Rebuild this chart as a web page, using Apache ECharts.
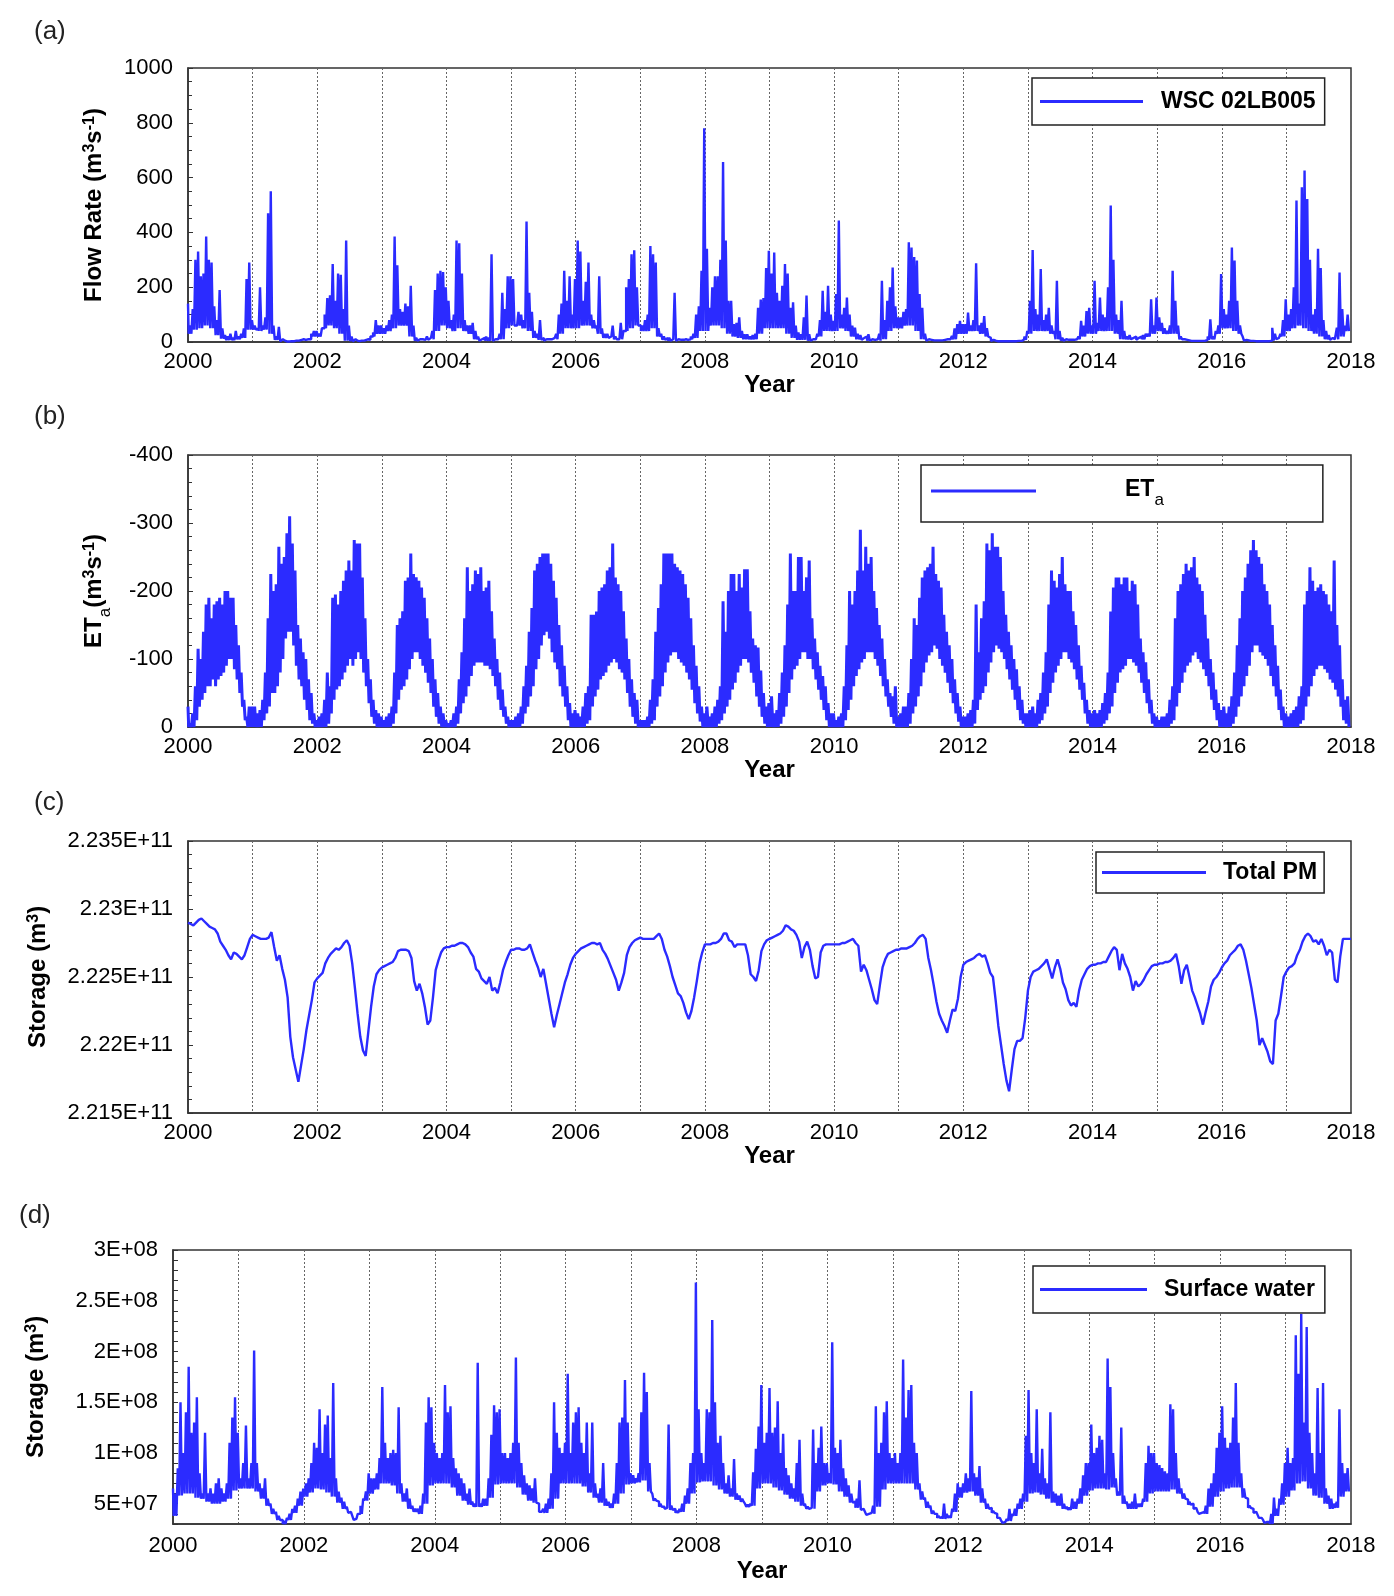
<!DOCTYPE html>
<html>
<head>
<meta charset="utf-8">
<script src="https://cdn.jsdelivr.net/npm/echarts@6/dist/echarts.min.js"></script>
<style>html,body{margin:0;padding:0;background:#fff}#c{width:1394px;height:1596px}</style>
</head>
<body>
<div id="c"></div>
<script>
// ---- time base: half-month samples from 2000 to 2018 ----
const startYear = 2000;
const endYear = 2018;
const perYear = 24;

// (a) Flow rate WSC 02LB005 (m3/s): half-month peaks (24/yr) and monthly base flow (12/yr)
const flowPeak = [
140,60,120,300,330,240,250,385,300,290,130,80,190,50,25,20,30,15,40,20,30,50,230,290,
80,60,50,200,60,90,470,550,60,20,55,10,5,3,3,3,5,5,8,10,15,15,30,40,
40,30,50,100,160,170,285,150,250,245,120,370,60,20,10,5,5,5,8,10,20,35,80,60,
60,50,60,80,100,385,280,120,110,140,130,205,60,15,10,10,8,20,15,40,190,250,260,255,
200,150,80,100,370,360,250,80,60,60,70,40,20,10,15,20,15,320,10,10,30,180,120,240,
240,230,60,110,100,80,440,180,110,40,30,80,15,10,10,10,15,30,100,140,260,150,240,100,
230,370,330,150,220,290,100,80,60,240,50,30,30,20,60,20,10,70,40,200,230,320,335,200,
60,60,80,100,350,320,290,50,30,20,15,15,10,180,10,8,8,10,15,20,30,100,130,260,
780,340,125,200,240,240,300,657,370,150,150,65,70,90,40,28,28,20,25,30,125,155,160,270,
333,250,327,180,150,205,285,250,125,145,60,35,28,90,170,28,10,10,30,80,187,110,205,100,
77,175,443,100,125,162,100,60,52,30,25,15,20,28,10,8,10,30,223,80,150,200,272,130,
90,90,110,120,364,345,310,297,175,125,30,10,8,6,6,6,6,8,10,10,22,50,65,77,
65,65,107,60,80,287,60,70,95,50,15,8,5,5,4,4,4,4,4,4,5,6,10,20,
40,150,336,120,100,266,80,100,125,60,40,223,40,15,10,8,8,8,10,20,77,60,113,125,
60,223,70,162,100,90,200,498,300,100,80,150,40,20,25,15,20,15,20,25,30,30,156,60,
162,90,70,50,40,60,260,150,60,20,10,8,6,6,5,5,5,6,8,20,83,20,40,60,
248,120,100,150,345,297,150,60,20,8,6,5,5,5,5,5,6,8,10,52,30,15,30,80,
156,100,120,200,516,140,565,626,522,300,100,120,340,270,80,40,25,15,10,52,254,120,60,100
];
const flowBase = [
30,45,50,60,50,25,12,7,7,10,15,45,
45,40,45,30,8,3,2,3,5,8,10,20,
20,50,60,50,30,5,3,3,5,8,20,30,
30,40,50,60,60,20,5,5,8,10,40,60,
50,40,50,40,30,10,5,5,5,5,10,50,
60,60,50,40,15,8,5,5,10,30,50,50,
50,60,60,50,30,15,15,10,10,40,50,60,
40,40,50,20,8,5,5,5,8,10,15,40,
40,60,60,50,30,20,15,10,10,10,30,50,
50,50,50,30,15,8,8,5,10,20,40,40,
40,50,40,20,10,8,5,5,5,10,40,50,
50,60,60,40,10,5,3,3,3,5,10,30,
30,40,40,30,20,4,3,3,3,3,4,8,
30,40,40,40,30,10,5,5,6,10,20,30,
30,40,40,40,30,10,10,10,8,10,20,30,
40,30,30,30,10,5,4,4,4,8,10,30,
50,50,40,30,5,4,3,3,3,5,10,20,
40,50,60,50,40,30,20,10,8,10,20,40
];

// (b) ETa (m3/s, negative = loss): half-month upper and lower envelopes (24/yr each)
const etaPeak = [
-30,-5,-20,-60,-115,-100,-140,-180,-190,-160,-180,-185,-190,-180,-200,-200,-190,-190,-150,-120,-80,-40,-15,-30,
-30,-30,-20,-25,-40,-80,-160,-225,-200,-210,-265,-240,-250,-285,-310,-270,-230,-150,-130,-110,-100,-70,-50,-20,
-10,-15,-20,-40,-80,-60,-190,-195,-180,-200,-215,-230,-245,-230,-275,-270,-270,-220,-160,-100,-70,-40,-25,-20,
-15,-10,-15,-20,-30,-80,-150,-160,-170,-215,-220,-255,-225,-220,-215,-205,-190,-160,-130,-100,-70,-50,-30,-20,
-10,-5,-10,-20,-30,-70,-110,-160,-235,-200,-210,-230,-225,-235,-200,-205,-215,-170,-130,-100,-80,-55,-30,-15,
-10,-10,-15,-20,-30,-60,-90,-140,-175,-230,-240,-250,-255,-255,-255,-240,-215,-190,-150,-120,-90,-60,-35,-20,
-25,-20,-15,-30,-50,-60,-165,-165,-170,-200,-205,-210,-230,-235,-270,-220,-210,-200,-170,-130,-100,-70,-50,-40,
-10,-10,-10,-15,-40,-70,-140,-175,-210,-255,-255,-255,-255,-240,-235,-230,-225,-210,-190,-160,-120,-90,-60,-30,
-20,-30,-15,-20,-30,-40,-60,-185,-140,-200,-225,-225,-200,-225,-205,-232,-232,-170,-130,-120,-117,-83,-50,-30,
-35,-45,-20,-25,-50,-80,-120,-180,-255,-200,-200,-250,-250,-200,-220,-245,-160,-130,-110,-90,-75,-60,-35,-20,
-20,-10,-15,-20,-60,-120,-200,-180,-200,-230,-290,-230,-265,-240,-250,-200,-175,-150,-130,-100,-70,-50,-45,-60,
-15,-20,-30,-30,-50,-100,-160,-150,-190,-220,-230,-235,-240,-265,-225,-215,-205,-165,-140,-120,-100,-70,-50,-30,
-15,-15,-20,-25,-40,-180,-110,-160,-185,-270,-260,-285,-265,-265,-250,-200,-165,-140,-120,-100,-85,-60,-40,-20,
-20,-25,-30,-20,-40,-50,-80,-110,-180,-230,-215,-205,-225,-250,-210,-200,-200,-170,-150,-120,-90,-65,-40,-25,
-20,-25,-20,-25,-35,-50,-80,-170,-205,-220,-220,-210,-220,-220,-200,-215,-210,-180,-130,-110,-95,-70,-40,-20,
-15,-10,-15,-15,-20,-40,-60,-160,-200,-210,-225,-240,-230,-235,-250,-220,-210,-200,-165,-130,-100,-80,-55,-35,
-25,-30,-20,-30,-45,-80,-120,-160,-200,-220,-240,-260,-275,-260,-250,-240,-210,-200,-180,-150,-120,-90,-55,-30,
-20,-15,-20,-25,-30,-45,-60,-180,-200,-235,-215,-200,-205,-210,-200,-195,-180,-170,-245,-150,-120,-70,-40,-45
];
const etaBase = [
0,0,0,-10,-30,-40,-50,-60,-60,-70,-60,-70,-75,-80,-90,-100,-100,-85,-70,-50,-30,-10,0,0,
0,0,0,0,-10,-20,-30,-50,-50,-60,-80,-100,-130,-140,-140,-120,-90,-70,-60,-40,-25,-10,-5,0,
0,0,0,0,-5,-20,-40,-55,-60,-70,-80,-90,-100,-90,-100,-110,-100,-80,-60,-35,-15,-5,0,0,
0,0,0,0,-5,-20,-40,-55,-60,-70,-85,-100,-110,-110,-100,-90,-80,-65,-50,-30,-15,-5,0,0,
0,0,0,0,-5,-20,-35,-45,-60,-75,-90,-95,-95,-95,-90,-90,-85,-75,-60,-40,-25,-15,-5,0,
0,0,0,0,-5,-20,-30,-45,-60,-85,-100,-120,-135,-140,-130,-110,-95,-85,-60,-45,-30,-10,0,0,
0,0,0,0,-5,-10,-30,-45,-55,-70,-75,-80,-90,-95,-100,-95,-85,-80,-70,-50,-30,-15,-5,0,
0,0,0,0,-5,-10,-30,-45,-60,-80,-95,-105,-110,-110,-100,-95,-90,-80,-70,-55,-35,-20,-8,0,
0,0,0,0,0,-5,-10,-20,-30,-40,-55,-65,-80,-90,-100,-100,-95,-80,-65,-45,-30,-15,-5,0,
0,0,0,0,-5,-15,-30,-50,-70,-85,-90,-100,-110,-110,-100,-100,-85,-70,-55,-40,-25,-10,0,0,
0,0,0,0,-10,-25,-40,-60,-75,-85,-95,-100,-110,-110,-110,-100,-90,-75,-60,-45,-30,-15,-5,0,
0,0,0,0,-5,-20,-30,-45,-60,-80,-95,-105,-110,-120,-115,-100,-90,-80,-65,-50,-35,-20,-8,0,
0,0,0,0,-5,-25,-40,-50,-60,-80,-95,-110,-120,-115,-110,-100,-85,-70,-55,-40,-25,-10,-5,0,
0,0,0,0,-5,-10,-20,-30,-50,-65,-80,-90,-100,-110,-110,-100,-95,-85,-70,-55,-40,-20,-5,0,
0,0,0,0,-5,-10,-20,-30,-50,-65,-80,-85,-90,-100,-100,-95,-90,-80,-65,-50,-35,-20,-5,0,
0,0,0,0,0,-5,-10,-30,-50,-65,-80,-90,-95,-105,-110,-100,-95,-85,-75,-60,-40,-25,-10,0,
0,0,0,0,-5,-15,-30,-45,-60,-75,-90,-110,-120,-120,-110,-105,-100,-90,-75,-60,-45,-25,-10,0,
0,0,0,0,0,-5,-10,-30,-45,-60,-75,-85,-90,-90,-85,-80,-70,-65,-55,-45,-30,-10,-5,0
];

// (c) Total PM storage, in units of 1e9 m3 (24/yr) plus final value at 2018
const pmStorageE9 = [
222.90,222.89,222.88,222.90,222.92,222.93,222.91,222.89,222.87,222.86,222.85,222.82,222.76,222.73,222.70,222.66,222.63,222.68,222.67,222.65,222.63,222.66,222.72,222.78,
222.81,222.80,222.79,222.78,222.78,222.78,222.79,222.83,222.72,222.62,222.66,222.56,222.48,222.35,222.06,221.91,221.82,221.73,221.85,221.97,222.11,222.22,222.33,222.46,
222.49,222.51,222.53,222.60,222.64,222.67,222.69,222.71,222.70,222.72,222.75,222.77,222.73,222.60,222.42,222.23,222.06,221.96,221.92,222.10,222.28,222.43,222.52,222.55,
222.57,222.58,222.59,222.60,222.61,222.64,222.69,222.70,222.70,222.70,222.69,222.64,222.47,222.40,222.45,222.38,222.28,222.15,222.18,222.35,222.55,222.62,222.68,222.71,
222.72,222.72,222.73,222.73,222.74,222.75,222.75,222.74,222.72,222.68,222.65,222.56,222.54,222.49,222.47,222.45,222.50,222.40,222.42,222.38,222.46,222.55,222.61,222.66,
222.70,222.70,222.71,222.71,222.70,222.70,222.71,222.74,222.68,222.62,222.57,222.50,222.56,222.45,222.34,222.23,222.13,222.22,222.30,222.38,222.46,222.52,222.59,222.64,
222.67,222.69,222.71,222.72,222.73,222.74,222.75,222.75,222.74,222.75,222.70,222.67,222.63,222.58,222.53,222.48,222.40,222.46,222.53,222.66,222.72,222.75,222.77,222.78,
222.79,222.78,222.78,222.78,222.78,222.78,222.80,222.82,222.78,222.70,222.65,222.58,222.50,222.44,222.38,222.36,222.31,222.24,222.19,222.25,222.35,222.47,222.60,222.68,
222.74,222.74,222.74,222.75,222.75,222.76,222.78,222.82,222.82,222.77,222.76,222.72,222.74,222.74,222.74,222.74,222.66,222.52,222.50,222.47,222.55,222.69,222.74,222.77,
222.78,222.79,222.80,222.81,222.82,222.84,222.88,222.87,222.85,222.84,222.81,222.76,222.64,222.72,222.76,222.70,222.58,222.49,222.50,222.68,222.73,222.74,222.74,222.74,
222.74,222.74,222.74,222.75,222.75,222.76,222.77,222.78,222.75,222.73,222.54,222.59,222.55,222.48,222.41,222.33,222.30,222.44,222.57,222.63,222.67,222.68,222.69,222.70,
222.70,222.71,222.71,222.71,222.72,222.73,222.75,222.78,222.80,222.81,222.78,222.64,222.55,222.44,222.32,222.23,222.18,222.14,222.09,222.18,222.26,222.25,222.34,222.50,
222.59,222.61,222.62,222.63,222.64,222.66,222.67,222.65,222.66,222.60,222.53,222.50,222.33,222.14,222.00,221.86,221.74,221.66,221.82,221.97,222.03,222.03,222.05,222.20,
222.40,222.50,222.54,222.55,222.56,222.58,222.60,222.63,222.56,222.49,222.57,222.63,222.56,222.46,222.41,222.33,222.29,222.31,222.28,222.40,222.48,222.52,222.56,222.58,
222.59,222.59,222.60,222.60,222.61,222.61,222.65,222.69,222.72,222.70,222.55,222.67,222.60,222.56,222.50,222.40,222.47,222.43,222.45,222.48,222.52,222.55,222.58,222.59,
222.59,222.60,222.60,222.61,222.61,222.62,222.64,222.67,222.58,222.45,222.55,222.59,222.50,222.40,222.35,222.29,222.23,222.15,222.24,222.32,222.43,222.48,222.50,222.53,
222.57,222.60,222.62,222.66,222.68,222.70,222.73,222.74,222.70,222.62,222.52,222.42,222.30,222.18,222.00,222.05,222.00,221.95,221.88,221.86,222.18,222.23,222.36,222.50,
222.54,222.57,222.58,222.60,222.66,222.70,222.76,222.80,222.82,222.80,222.76,222.77,222.74,222.78,222.73,222.66,222.70,222.68,222.48,222.46,222.65,222.78,222.78,222.78,
222.78
];

// (d) Surface water storage, in units of 1e6 m3: half-month peaks (24/yr) and monthly base (12/yr)
const swPeakE6 = [
65,60,85,150,100,140,185,120,130,155,80,60,120,60,65,60,70,75,65,60,70,110,135,155,
120,75,90,127,75,90,201,90,70,65,75,55,50,45,42,38,34,33,36,40,45,48,55,62,
65,70,75,90,110,105,143,100,128,137,95,169,75,62,56,52,47,42,38,35,40,48,55,62,
80,75,75,80,95,165,110,95,100,103,100,145,70,60,65,55,48,45,45,48,60,130,155,145,
110,100,95,100,167,140,146,95,85,80,75,70,60,65,52,50,189,50,55,55,75,118,147,140,
143,100,100,95,100,110,194,110,90,78,70,68,65,75,50,42,45,50,55,80,150,120,105,100,
110,178,100,130,140,145,110,100,130,80,130,70,60,65,90,55,52,50,60,90,130,135,172,130,
80,78,75,80,140,179,160,90,60,55,52,50,47,46,128,48,45,43,45,50,58,65,90,100,
268,143,100,90,143,140,231,150,110,117,90,70,78,65,94,60,58,55,50,49,50,81,104,126,
167,110,120,164,120,125,151,100,119,85,78,70,65,90,113,60,50,47,46,123,90,105,126,90,
90,80,209,105,100,113,85,75,68,60,52,55,73,45,42,40,41,48,146,100,110,140,151,100,
95,100,90,100,192,135,162,167,110,100,70,62,56,52,48,43,40,38,37,50,40,38,45,60,
70,66,70,80,75,161,80,76,87,65,55,50,46,43,40,36,33,32,35,45,40,45,50,55,
60,117,162,100,90,143,80,104,75,70,140,62,60,58,60,50,47,46,55,52,55,65,78,90,
90,128,100,105,117,113,80,193,165,100,75,62,125,58,52,50,52,60,50,50,55,90,107,100,
100,90,88,85,82,80,148,143,100,75,65,60,54,52,50,46,42,41,42,48,65,70,80,105,
120,146,115,105,110,135,169,110,80,65,55,48,45,42,39,36,34,32,32,40,56,45,55,70,
90,105,90,95,216,178,237,130,224,120,100,80,164,100,169,65,58,55,50,52,143,90,80,85
];
const swBaseE6 = [
38,58,60,60,56,55,52,50,50,52,55,63,
65,65,65,62,55,48,40,34,30,34,41,48,
57,61,65,64,61,57,51,45,41,34,40,53,
60,64,70,70,68,60,52,45,42,40,50,68,
70,70,70,66,58,53,49,47,47,48,56,69,
70,70,70,66,59,53,51,42,41,45,55,70,
70,70,70,67,61,56,51,48,46,50,60,69,
70,71,73,62,53,47,45,44,41,42,50,60,
71,72,72,68,64,60,57,54,52,47,48,65,
70,70,66,63,59,55,52,48,45,45,62,68,
70,69,62,57,51,46,44,39,40,47,64,70,
70,70,70,70,64,54,46,40,36,35,36,42,
56,61,62,58,51,45,41,36,31,33,38,45,
52,60,61,59,55,51,48,45,44,45,50,58,
63,65,65,64,66,58,50,45,45,47,52,60,
62,62,62,64,60,55,49,45,40,40,47,57,
62,65,66,66,56,46,41,36,31,30,38,49,
57,63,70,72,65,58,56,50,45,46,57,62
];

// ---- build series data ----
function tx(i) { return startYear + i / perYear; }
function dense(peak, base, baseStep, scale) {
  const out = [];
  for (let i = 0; i < peak.length; i++) {
    out.push([tx(i), peak[i] * scale]);
    out.push([tx(i) + 0.5 / perYear, base[Math.floor(i / baseStep)] * scale]);
  }
  return out;
}
const flowData = dense(flowPeak, flowBase, 2, 1);
const etaData = dense(etaPeak, etaBase, 1, 1);
const swData = dense(swPeakE6, swBaseE6, 2, 1e6);
const pmData = pmStorageE9.map((v, i) => [tx(i), v * 1e9]);

// ---- styling ----
const FONT = '"Liberation Sans", Arial, Helvetica, sans-serif';
const BLUE = '#2b2bff';
const FRAME = '#333';
const TICK_FS = 22;
const NAME_FS = 24;
const LEG_FS = 23;

const nameRich = {
  t: { fontSize: NAME_FS, fontWeight: 'bold', fontFamily: FONT, color: '#000', lineHeight: 28, verticalAlign: 'top' },
  p: { fontSize: 16, fontWeight: 'bold', fontFamily: FONT, color: '#000', lineHeight: 16, verticalAlign: 'top' },
  s: { fontSize: 17, fontWeight: 'normal', fontFamily: FONT, color: '#000', lineHeight: 17, verticalAlign: 'top', padding: [15, 0, 0, 0] }
};

const grids = [
  { left: 188, top: 68, width: 1163, height: 274 },
  { left: 188, top: 455, width: 1163, height: 272 },
  { left: 188, top: 841, width: 1163, height: 272 },
  { left: 173, top: 1250, width: 1178, height: 274 }
].map(g => Object.assign({ show: true, borderColor: FRAME, borderWidth: 1.5, backgroundColor: 'transparent', containLabel: false, outerBoundsMode: 'none' }, g));

function xAxisCfg(gi, labelMargin, nameGap) {
  return {
    type: 'value', gridIndex: gi, min: startYear, max: endYear, interval: 1,
    axisLine: { show: true, onZero: false, lineStyle: { color: FRAME, width: 1.5 } },
    axisTick: { show: false },
    axisLabel: {
      margin: labelMargin, color: '#000', fontSize: TICK_FS, fontFamily: FONT,
      showMinLabel: true, showMaxLabel: true,
      formatter: v => (Math.round(v) % 2 === 0 ? String(Math.round(v)) : '')
    },
    splitLine: { show: true, lineStyle: { color: '#666', width: 1, type: [2, 2] } },
    name: 'Year', nameLocation: 'middle', nameGap: nameGap, nameMoveOverlap: false,
    nameTextStyle: { fontSize: NAME_FS, fontWeight: 'bold', color: '#000', fontFamily: FONT }
  };
}

function yAxisCfg(gi, extra) {
  return Object.assign({
    type: 'value', gridIndex: gi, position: 'left',
    axisLine: { show: true, onZero: false, lineStyle: { color: FRAME, width: 1.5 } },
    axisTick: { show: true, inside: true, length: 5, lineStyle: { color: FRAME, width: 1 } },
    splitLine: { show: false },
    nameLocation: 'middle', nameRotate: 90, nameMoveOverlap: false,
    nameTextStyle: { rich: nameRich }
  }, extra);
}

function labelCfg(formatter) {
  return { margin: 15, color: '#000', fontSize: TICK_FS, fontFamily: FONT, formatter: formatter };
}

function expLabel(v) {
  const e = Math.floor(Math.log10(v) + 1e-9);
  const m = parseFloat((v / Math.pow(10, e)).toFixed(3));
  return m + 'E+' + String(e).padStart(2, '0');
}

const minorCfg = n => ({ show: true, splitNumber: n, length: 4, lineStyle: { color: FRAME, width: 1 } });

function legendCfg(name, left, top, width, padding, textPad, formatter, rich) {
  const ts = { fontSize: LEG_FS, fontWeight: 'bold', fontFamily: FONT, color: '#000', padding: [0, 0, 0, textPad] };
  if (rich) ts.rich = rich;
  const cfg = {
    data: [name], left: left, top: top, orient: 'horizontal',
    icon: 'rect', itemWidth: width, itemHeight: 3,
    padding: padding, borderColor: '#222', borderWidth: 1.5, borderRadius: 0,
    backgroundColor: '#fff', selectedMode: false, textStyle: ts
  };
  if (formatter) cfg.formatter = formatter;
  return cfg;
}

const option = {
  animation: false,
  backgroundColor: '#fff',
  grid: grids,
  xAxis: [
    xAxisCfg(0, 9, 31),
    xAxisCfg(1, 9, 31),
    xAxisCfg(2, 9, 31),
    xAxisCfg(3, 11, 35)
  ],
  yAxis: [
    yAxisCfg(0, {
      min: 0, max: 1000, interval: 200, minorTick: minorCfg(4),
      axisLabel: labelCfg(v => String(v)),
      name: '{t|Flow Rate (m}{p|3}{t|s}{p|-1}{t|)}', nameGap: 78
    }),
    yAxisCfg(1, {
      min: -400, max: 0, interval: 100, inverse: true, minorTick: minorCfg(5),
      axisLabel: labelCfg(v => String(v)),
      name: '{t|ET}{s|a}{t|(m}{p|3}{t|s}{p|-1}{t|)}', nameGap: 78
    }),
    yAxisCfg(2, {
      min: 2.215e11, max: 2.235e11, interval: 5e8, minorTick: minorCfg(5),
      axisLabel: labelCfg(v => parseFloat((v / 1e11).toFixed(4)) + 'E+11'),
      name: '{t|Storage (m}{p|3}{t|)}', nameGap: 134
    }),
    yAxisCfg(3, {
      min: 3e7, max: 3e8, interval: 1e7,
      axisLabel: labelCfg(v => (Math.round(v / 1e6) % 50 === 0 ? expLabel(v) : '')),
      name: '{t|Storage (m}{p|3}{t|)}', nameGap: 121
    })
  ],
  legend: [
    legendCfg('WSC 02LB005', 1032, 78, 103, [12, 9, 12, 8], 13),
    legendCfg('ETa', 921, 465, 105, [13, 159, 13, 10], 84, () => '{t|ET}{s|a}', {
      t: { fontSize: LEG_FS, fontWeight: 'bold', fontFamily: FONT, color: '#000', lineHeight: 26, verticalAlign: 'top' },
      s: { fontSize: 17, fontWeight: 'normal', fontFamily: FONT, color: '#000', lineHeight: 17, verticalAlign: 'top', padding: [14, 0, 0, 0] }
    }),
    legendCfg('Total PM', 1096, 852, 104, [9, 7, 9, 6], 12),
    legendCfg('Surface water', 1033, 1266, 107, [12, 10, 12, 7], 12)
  ],
  graphic: [
    { type: 'text', left: 34, top: 19, style: { text: '(a)', fontSize: 26, fontFamily: FONT, fill: '#222' } },
    { type: 'text', left: 34, top: 404, style: { text: '(b)', fontSize: 26, fontFamily: FONT, fill: '#222' } },
    { type: 'text', left: 34, top: 790, style: { text: '(c)', fontSize: 26, fontFamily: FONT, fill: '#222' } },
    { type: 'text', left: 19, top: 1203, style: { text: '(d)', fontSize: 26, fontFamily: FONT, fill: '#222' } }
  ],
  series: [
    { type: 'line', name: 'WSC 02LB005', xAxisIndex: 0, yAxisIndex: 0, data: flowData, step: 'middle',
      showSymbol: false, symbol: 'none', lineStyle: { color: BLUE, width: 2.4 }, itemStyle: { color: BLUE }, clip: true },
    { type: 'line', name: 'ETa', xAxisIndex: 1, yAxisIndex: 1, data: etaData, step: 'middle',
      showSymbol: false, symbol: 'none', lineStyle: { color: BLUE, width: 3 }, itemStyle: { color: BLUE }, clip: true },
    { type: 'line', name: 'Total PM', xAxisIndex: 2, yAxisIndex: 2, data: pmData,
      showSymbol: false, symbol: 'none', lineStyle: { color: BLUE, width: 2.4 }, itemStyle: { color: BLUE }, clip: true },
    { type: 'line', name: 'Surface water', xAxisIndex: 3, yAxisIndex: 3, data: swData, step: 'middle',
      showSymbol: false, symbol: 'none', lineStyle: { color: BLUE, width: 2.4 }, itemStyle: { color: BLUE }, clip: true }
  ]
};

const chart = echarts.init(document.getElementById('c'), null, { renderer: 'canvas', width: 1394, height: 1596 });
chart.setOption(option);
</script>
</body>
</html>
